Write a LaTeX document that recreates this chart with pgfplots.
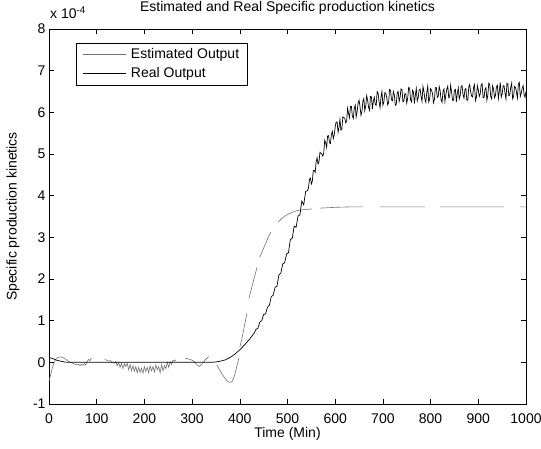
\documentclass[border=0pt]{standalone}
\usepackage{fontspec}
\setmainfont{Liberation Sans}
\usepackage{pgfplots}
\pgfplotsset{compat=1.18}
\usetikzlibrary{calc}
\definecolor{estgray}{gray}{0.45}
\begin{document}
\begin{tikzpicture}[font=\fontsize{14bp}{16bp}\selectfont]
\begin{axis}[name=ax, scale only axis, width=477bp, height=375bp,
  xmin=0, xmax=1000, ymin=-1, ymax=8,
  xtick={0,100,...,1000}, ytick={-1,0,...,8},
  xticklabels={0,100,200,300,400,500,600,700,800,900,1000},
  yticklabels={-1,0,1,2,3,4,5,6,7,8},
  tick align=inside, major tick length=5bp,
  tick style={black, line width=0.6bp},
  axis line style={line width=0.8bp},
  xticklabel style={anchor=base, yshift=-19bp},
  title={Estimated and Real Specific production kinetics},
  title style={at={(0.5,1)}, anchor=base, yshift=12bp, inner sep=0pt},
  xlabel={Time (Min)},
  xlabel style={at={(axis description cs:0.5,0)}, anchor=base, yshift=-33bp, inner sep=0pt},
  ylabel={Specific production kinetics},
  ylabel style={at={(axis description cs:0,0.5)}, anchor=center, yshift=36bp},
  unbounded coords=jump,
  legend style={at={(0,1)}, anchor=north west, xshift=27bp, yshift=-14bp,
    draw=black, line width=0.6bp, inner xsep=6bp, inner ysep=3bp,
    nodes={inner sep=2bp, text height=10bp, text depth=3bp}, row sep=2bp, column sep=3bp,
    font=\fontsize{14bp}{16bp}\selectfont},
  legend cell align=left,
  legend image code/.code={\draw[#1] (0bp,0bp) -- (43bp,0bp);},
]
\addplot[estgray, line width=0.6bp] coordinates {
(0,-0.45) (3,-0.32) (6,-0.18) (10,-0.02) (14,0.07) (18,0.11) (23,0.13) (28,0.12)
(33,0.09) (38,0.05) (43,0.01) (48,-0.01) (53,-0.04) (58,-0.06) (62,-0.05) (65,-0.08)
(68,-0.05) (71,-0.07) (74,-0.03) (77,-0.06) (80,0.02) (83,0.07) (86,0.04) (89,0.1)
(100,nan)
(117,0.07) (121,0.05) (125,0.03) (129,0.04) (133,0.0) (137,-0.02) (140,0.02) (143,-0.08)
(146,0.0) (149,-0.12) (152,-0.02) (155,-0.15) (158,-0.03) (161,-0.1) (164,-0.02) (167,-0.18)
(170,-0.05) (173,-0.2) (176,-0.08) (179,-0.22) (182,-0.1) (185,-0.25) (188,-0.12) (191,-0.24)
(194,-0.14) (197,-0.26) (200,-0.1) (203,-0.22) (206,-0.12) (209,-0.25) (212,-0.08) (215,-0.2)
(218,-0.1) (221,-0.23) (224,-0.06) (227,-0.18) (230,-0.1) (233,-0.25) (236,-0.05) (239,-0.2)
(242,-0.08) (245,-0.15) (248,0.0) (251,-0.12) (254,0.02) (257,-0.05) (260,0.05) (263,0.03) (266,0.06)
(275,nan)
(285,0.1) (292,0.08) (298,0.06) (303,0.03) (308,-0.03) (312,-0.08) (315,-0.1) (318,-0.07)
(322,-0.02) (327,0.05) (331,0.1) (335,0.14)
(345,nan)
(352,-0.07) (357,-0.17) (363,-0.28) (368,-0.37) (373,-0.44) (378,-0.48) (383,-0.47)
(387,-0.38) (390,-0.27) (393,-0.13) (396,0.0) (398,0.1)
(399,nan)
(400,0.36) (404,0.55) (408,0.78) (411,0.95) (415,1.18)
(417,nan)
(419,1.53) (424,1.75) (428,1.93) (432,2.1) (436,2.28)
(439,nan)
(442,2.52) (447,2.66) (452,2.8) (456,2.9) (460,3.02) (465,3.12)
(472,nan)
(480,3.36) (488,3.45) (496,3.52) (504,3.57) (512,3.61) (520,3.64) (530,3.66) (540,3.67) (551,3.68)
(560,nan)
(568,3.70) (600,3.72) (630,3.73) (658,3.73)
(675,nan)
(694,3.73) (788,3.73)
(800,nan)
(820,3.73) (954,3.73)
(970,nan)
(987,3.73) (1000,3.73)
};
\addlegendentry{Estimated Output}
\addplot[black, line width=0.7bp] coordinates {
(0,0.12) (8,0.09) (16,0.05) (24,0.03) (32,0.01) (40,0) (340,0) (350,0.01) (360,0.03)
(370,0.06) (380,0.12) (390,0.2) (400,0.3) (410,0.42) (420,0.55) (430,0.7)
(434,0.79) (438,0.82) (442,0.97) (446,1.00) (450,1.15) (454,1.16) (458,1.32) (462,1.37)
(466,1.58) (470,1.61) (474,1.80) (478,1.83) (482,2.10) (486,2.14) (490,2.36) (494,2.39)
(498,2.60) (502,2.63) (506,2.95) (510,2.98) (514,3.27) (518,3.24) (522,3.51) (526,3.54)
(530,3.87) (534,3.78) (538,4.10)
(542,4.12) (544,4.19) (546,4.39) (548,4.42) (550,4.28) (552,4.34) (554,4.60) (556,4.61) (558,4.56) (560,4.81)
(562,4.91) (564,4.76) (566,4.81) (568,5.04) (570,5.02) (572,5.00) (574,4.95) (576,5.02) (578,5.33) (580,5.27)
(582,5.16) (584,5.43) (586,5.44) (588,5.28) (590,5.25) (592,5.47) (594,5.54) (596,5.37) (598,5.46) (600,5.65)
(602,5.77) (604,5.77) (606,5.52) (608,5.64) (610,5.83) (612,5.57) (614,5.60) (616,5.89) (618,5.87) (620,5.86)
(622,5.75) (624,5.79) (626,6.10) (628,5.97) (630,5.87) (632,6.14) (634,6.14) (636,5.91) (638,5.85) (640,6.10)
(642,6.17) (644,5.89) (646,6.02) (648,6.22) (650,6.29) (652,6.14) (654,5.93) (656,6.01) (658,6.26) (660,6.33)
(662,6.04) (664,6.15) (666,6.40) (668,6.29) (670,6.12) (672,6.05) (674,6.38) (676,6.37) (678,6.08) (680,6.27)
(682,6.36) (684,6.18) (686,6.17) (688,6.50) (690,6.46) (692,6.25) (694,6.11) (696,6.36) (698,6.50) (700,6.17)
(702,6.25) (704,6.47) (706,6.46) (708,6.36) (710,6.18) (712,6.23) (714,6.55) (716,6.53) (718,6.30) (720,6.28)
(722,6.50) (724,6.42) (726,6.17) (728,6.19) (730,6.47) (732,6.50) (734,6.26) (736,6.36) (738,6.56) (740,6.55)
(742,6.25) (744,6.27) (746,6.45) (748,6.44) (750,6.22) (752,6.34) (754,6.60) (756,6.58) (758,6.30) (760,6.25)
(762,6.53) (764,6.49) (766,6.21) (768,6.41) (770,6.57) (772,6.27) (774,6.35) (776,6.54) (778,6.56) (780,6.38)
(782,6.26) (784,6.62) (786,6.50) (788,6.32) (790,6.24) (792,6.48) (794,6.63) (796,6.25) (798,6.31) (800,6.57)
(802,6.53) (804,6.45) (806,6.23) (808,6.31) (810,6.59) (812,6.60) (814,6.36) (816,6.38) (818,6.62) (820,6.52)
(822,6.30) (824,6.24) (826,6.50) (828,6.56) (830,6.26) (832,6.42) (834,6.56) (836,6.63) (838,6.35) (840,6.37)
(842,6.65) (844,6.49) (846,6.29) (848,6.29) (850,6.53) (852,6.55) (854,6.25) (856,6.45) (858,6.59) (860,6.32)
(862,6.40) (864,6.62) (866,6.64) (868,6.42) (870,6.34) (872,6.55) (874,6.57) (876,6.29) (878,6.29) (880,6.61)
(882,6.67) (884,6.49) (886,6.39) (888,6.37) (890,6.59) (892,6.66) (894,6.28) (896,6.36) (898,6.64) (900,6.54)
(902,6.38) (904,6.44) (906,6.66) (908,6.69) (910,6.35) (912,6.35) (914,6.55) (916,6.59) (918,6.29) (920,6.42)
(922,6.70) (924,6.66) (926,6.38) (928,6.32) (930,6.64) (932,6.55) (934,6.35) (936,6.41) (938,6.61) (940,6.65)
(942,6.33) (944,6.50) (946,6.72) (948,6.36) (950,6.44) (952,6.64) (954,6.64) (956,6.46) (958,6.32) (960,6.70)
(962,6.68) (964,6.40) (966,6.42) (968,6.60) (970,6.70) (972,6.32) (974,6.38) (976,6.62) (978,6.60) (980,6.48)
(982,6.34) (984,6.68) (986,6.72) (988,6.38) (990,6.46) (992,6.58) (994,6.64) (996,6.42) (998,6.36) (1000,6.50)
};
\addlegendentry{Real Output}
\end{axis}
\node[anchor=base west, inner sep=0pt] at ($(ax.north west)+(1bp,10bp)$) {x 10\textsuperscript{-4}};
\pgfresetboundingbox
\path ($(ax.south west)+(-49bp,-45bp)$) rectangle ($(ax.north east)+(15bp,29bp)$);
\end{tikzpicture}
\end{document}
